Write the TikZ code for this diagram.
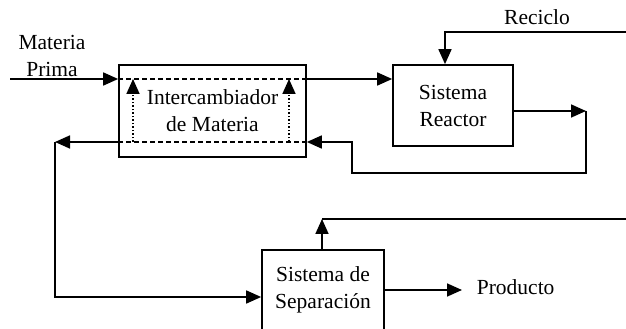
\documentclass[tikz,border=0pt]{standalone}
\usepackage{fontspec}
\setmainfont{Liberation Serif}
\usetikzlibrary{arrows.meta}
\begin{document}
\begin{tikzpicture}[x=1pt,y=1pt,
  line width=1.7pt,
  font=\fontsize{21.5}{27}\selectfont,
  blk/.style={draw,line width=1.7pt,inner sep=0pt,align=center},
  arr/.style={-{Triangle[length=15pt,width=13pt]}},
  lbl/.style={align=center,inner sep=0pt}]
\useasboundingbox (0,0) rectangle (626,329);
\clip (0,0) rectangle (626,329);
% blocks (y = 329 - pixel y)
\node[blk,minimum width=187pt,minimum height=92pt] (ix) at (212.5,218) {Intercambiador\\de Materia};
\node[blk,minimum width=120pt,minimum height=81pt] (re) at (453,223.5) {Sistema\\Reactor};
\node[blk,minimum width=122pt,minimum height=80pt] (se) at (323,39) {Sistema de\\Separación};
% labels
\node[lbl] (mp) at (52,273) {Materia\\Prima};
\node[lbl] (rc) at (537,312) {Reciclo};
\node[lbl,anchor=west] (pr) at (476,42) {Producto};
% coordinates
\coordinate (in) at (10,250);
\coordinate (ixTL) at (ix.west |- in);
\coordinate (ixTR) at (ix.east |- in);
\coordinate (reIn) at (re.west |- in);
\coordinate (rcA) at (626,297);
\coordinate (rcB) at (445,297);
\coordinate (reTop) at (re.north -| rcB);
\coordinate (reOut) at (re.east |- 0,218);
\coordinate (p1) at (586,218);
\coordinate (p2) at (586,156);
\coordinate (p3) at (352,156);
\coordinate (p4) at (352,187);
\coordinate (ixBR) at (ix.east |- p4);
\coordinate (ixBL) at (ix.west |- p4);
\coordinate (l1) at (55,187);
\coordinate (l2) at (55,32);
\coordinate (seIn) at (se.west |- l2);
\coordinate (seTop) at (322,0 |- se.north);
\coordinate (u1) at (322,110);
\coordinate (u2) at (626,110);
\coordinate (seOut) at (se.east |- 0,39);
\coordinate (prT) at (462,39);
\coordinate (d1b) at (133,187);
\coordinate (d1t) at (133,250);
\coordinate (d2b) at (289,187);
\coordinate (d2t) at (289,250);
% connectors
\draw[arr] (in) -- (ixTL);
\draw[dash pattern=on 5pt off 3pt] (ixTL) -- (ixTR);
\draw[arr] (ixTR) -- (reIn);
\draw[arr] (rcA) -- (rcB) -- (reTop);
\draw[arr] (reOut) -- (p1);
\draw[arr] (p1) -- (p2) -- (p3) -- (p4) -- (ixBR);
\draw[dash pattern=on 5pt off 3pt] (ixBR) -- (ixBL);
\draw[arr] (ixBL) -- (l1);
\draw[arr] (l1) -- (l2) -- (seIn);
\draw[arr] (seTop) -- (u1);
\draw (u1) -- (u2);
\draw[arr] (seOut) -- (prT);
\draw[arr,dash pattern=on 1.5pt off 2pt] (d1b) -- (d1t);
\draw[arr,dash pattern=on 1.5pt off 2pt] (d2b) -- (d2t);
\end{tikzpicture}
\end{document}
